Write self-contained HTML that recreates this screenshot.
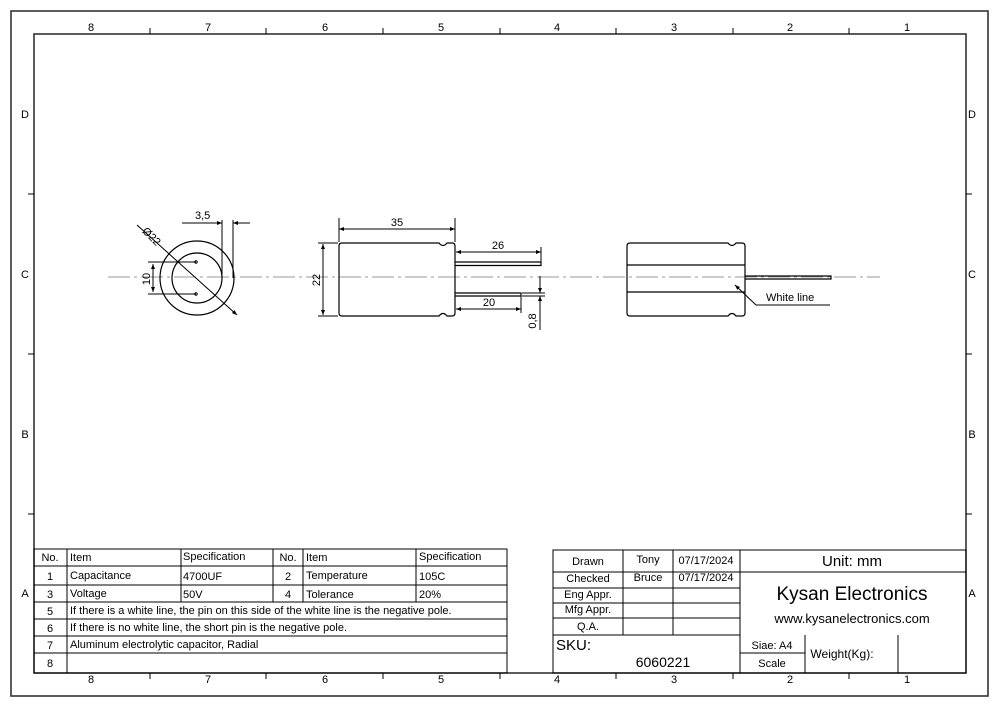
<!DOCTYPE html>
<html><head><meta charset="utf-8"><style>
html,body{margin:0;padding:0;background:#fff}
svg{display:block}
text{font-family:"Liberation Sans",sans-serif;fill:#000}
</style></head><body>
<svg width="1000" height="707" viewBox="0 0 1000 707" xmlns="http://www.w3.org/2000/svg">
<defs>
<marker id="a" viewBox="0 0 10 10" refX="10" refY="5" markerWidth="7" markerHeight="5" orient="auto-start-reverse" markerUnits="userSpaceOnUse"><path d="M0,1 L10,5 L0,9 z" fill="#000"/></marker>
</defs>
<g fill="none" stroke="#333">
<rect x="11" y="11" width="977" height="685" stroke-width="1.6"/>
<rect x="34" y="34" width="932" height="639" stroke-width="1.6"/>
</g>
<g stroke="#000" stroke-width="1">
<path d="M150,28V34M266,28V34M383,28V34M500,28V34M616,28V34M733,28V34M849,28V34"/>
<path d="M150,673V679M266,673V679M383,673V679M500,673V679M616,673V679M733,673V679M849,673V679"/>
<path d="M28,194H34M28,354H34M28,514H34M966,194H972M966,354H972M966,514H972"/>
</g>
<g font-size="11" text-anchor="middle">
<text x="91" y="31">8</text><text x="208" y="31">7</text><text x="325" y="31">6</text><text x="441" y="31">5</text><text x="557" y="31">4</text><text x="674" y="31">3</text><text x="790" y="31">2</text><text x="907" y="31">1</text>
<text x="91" y="683">8</text><text x="208" y="683">7</text><text x="325" y="683">6</text><text x="441" y="683">5</text><text x="557" y="683">4</text><text x="674" y="683">3</text><text x="790" y="683">2</text><text x="907" y="683">1</text>
<text x="25" y="118">D</text><text x="25" y="278">C</text><text x="25" y="438">B</text><text x="25" y="597">A</text>
<text x="972" y="118">D</text><text x="972" y="278">C</text><text x="972" y="438">B</text><text x="972" y="597">A</text>
</g>
<!-- center line -->
<line x1="108" y1="277" x2="880" y2="277" stroke="#999" stroke-width="1" stroke-dasharray="22,4,3,4"/>
<!-- front view -->
<g fill="none" stroke="#000" stroke-width="1">
<circle cx="197" cy="278" r="37" stroke-width="1.2"/>
<circle cx="197" cy="278" r="25" stroke-width="1.2"/>
<circle cx="196" cy="262" r="1.2"/><circle cx="196" cy="294" r="1.2"/>
<path d="M148,262H196M148,294H196"/>
<line x1="153" y1="264" x2="153" y2="292" marker-start="url(#a)" marker-end="url(#a)"/>
<path d="M222,220V278M233,220V278"/>
<line x1="182" y1="223" x2="222" y2="223" marker-end="url(#a)"/>
<line x1="250" y1="223" x2="233" y2="223" marker-end="url(#a)"/>
<line x1="137" y1="225" x2="237" y2="315" marker-end="url(#a)"/>
</g>
<text x="195" y="219" font-size="11">3,5</text>
<text x="149" y="239" font-size="11" transform="rotate(45 149 239)" text-anchor="middle">Ø22</text>
<text x="150" y="279" font-size="11" transform="rotate(-90 150 279)" text-anchor="middle">10</text>
<!-- side view -->
<g fill="none" stroke="#000" stroke-width="1.2">
<path d="M342,243 H439 q4,5 8,0 H452 q3,0 3,3 V313 q0,3 -3,3 H447 q-4,-5 -8,0 H342 q-3,0 -3,-3 V246 q0,-3 3,-3 Z"/>
<path d="M455,262H541V265.5H455M455,293H521V296H455"/>
</g>
<g fill="none" stroke="#000" stroke-width="1">
<path d="M339,218V242M455,218V242M318,243H338M318,316H338M541,247V262M521,296V313"/>
<line x1="339" y1="229" x2="455" y2="229" marker-start="url(#a)" marker-end="url(#a)"/>
<line x1="323" y1="244" x2="323" y2="315" marker-start="url(#a)" marker-end="url(#a)"/>
<line x1="456" y1="252" x2="541" y2="252" marker-start="url(#a)" marker-end="url(#a)"/>
<line x1="456" y1="309" x2="521" y2="309" marker-start="url(#a)" marker-end="url(#a)"/>
<path d="M522,293H545M522,296H545"/>
<line x1="540" y1="276" x2="540" y2="293" marker-end="url(#a)"/>
<line x1="540" y1="330" x2="540" y2="296" marker-end="url(#a)"/>
</g>
<text x="397" y="226" font-size="11" text-anchor="middle">35</text>
<text x="498" y="249" font-size="11" text-anchor="middle">26</text>
<text x="489" y="306" font-size="11" text-anchor="middle">20</text>
<text x="320" y="280" font-size="11" transform="rotate(-90 320 280)" text-anchor="middle">22</text>
<text x="536" y="321" font-size="11" transform="rotate(-90 536 321)" text-anchor="middle">0,8</text>
<!-- right view -->
<g fill="none" stroke="#000" stroke-width="1.2">
<path d="M630,243 H728 q4,5 8,0 H742 q3,0 3,3 V313 q0,3 -3,3 H736 q-4,-5 -8,0 H630 q-3,0 -3,-3 V246 q0,-3 3,-3 Z"/>
<path d="M627,265H745M627,292H745"/>
<path d="M745,276H831V279H745"/>
</g>
<g fill="none" stroke="#000" stroke-width="1">
<path d="M756,305H830"/>
<line x1="756" y1="305" x2="735" y2="285" marker-end="url(#a)"/>
</g>
<text x="766" y="301" font-size="11">White line</text>
<!-- left table -->
<g fill="none" stroke="#000" stroke-width="1">
<rect x="34" y="549" width="473" height="124"/>
<path d="M34,566H507M34,585H507M34,602H507M34,619H507M34,636H507M34,653H507"/>
<path d="M67,549V673M181,549V602M273,549V602M303,549V602M416,549V602"/>
</g>
<g font-size="11">
<text x="50" y="561" text-anchor="middle">No.</text><text x="70" y="561">Item</text><text x="183" y="560">Specification</text><text x="288" y="561" text-anchor="middle">No.</text><text x="306" y="561">Item</text><text x="419" y="560">Specification</text>
<text x="50" y="580" text-anchor="middle">1</text><text x="70" y="579">Capacitance</text><text x="183" y="580">4700UF</text><text x="288" y="580" text-anchor="middle">2</text><text x="306" y="579">Temperature</text><text x="419" y="580">105C</text>
<text x="50" y="598" text-anchor="middle">3</text><text x="70" y="597">Voltage</text><text x="183" y="598">50V</text><text x="288" y="598" text-anchor="middle">4</text><text x="306" y="598">Tolerance</text><text x="419" y="598">20%</text>
<text x="50" y="615" text-anchor="middle">5</text><text x="70" y="614">If there is a white line, the pin on this side of the white line is the negative pole.</text>
<text x="50" y="632" text-anchor="middle">6</text><text x="70" y="631">If there is no white line, the short pin is the negative pole.</text>
<text x="50" y="649" text-anchor="middle">7</text><text x="70" y="648">Aluminum electrolytic capacitor, Radial</text>
<text x="50" y="667" text-anchor="middle">8</text>
</g>
<!-- right table -->
<g fill="none" stroke="#000" stroke-width="1">
<rect x="553" y="550" width="413" height="123"/>
<path d="M553,572H966M553,588H740M553,603H740M553,618H740M553,635H740"/>
<path d="M623,550V635M673,550V635M740,550V673M805,635V673M898,635V673M740,653H805"/>
</g>
<g font-size="11" text-anchor="middle">
<text x="588" y="565">Drawn</text><text x="648" y="563">Tony</text><text x="706" y="564">07/17/2024</text>
<text x="588" y="582">Checked</text><text x="648" y="581">Bruce</text><text x="706" y="581">07/17/2024</text>
<text x="588" y="598">Eng Appr.</text><text x="588" y="613">Mfg Appr.</text><text x="588" y="630">Q.A.</text>
<text x="852" y="566" font-size="15">Unit: mm</text>
<text x="852" y="600" font-size="19">Kysan Electronics</text>
<text x="852" y="623" font-size="13">www.kysanelectronics.com</text>
<text x="772" y="649">Siae: A4</text><text x="772" y="667">Scale</text>
<text x="842" y="658" font-size="12">Weight(Kg):</text>
<text x="663" y="667" font-size="14">6060221</text>
</g>
<text x="556" y="650" font-size="15">SKU:</text>
</svg>
</body></html>
